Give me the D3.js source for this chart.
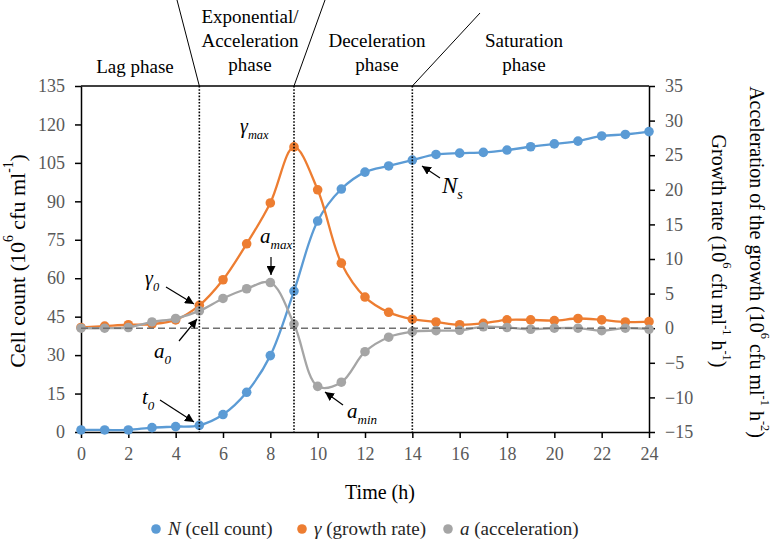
<!DOCTYPE html>
<html><head><meta charset="utf-8">
<script src="https://cdn.jsdelivr.net/npm/d3@7"></script>
<style>html,body{margin:0;padding:0;background:#fff;} svg{display:block;} svg text{font-family:"Liberation Serif","Times New Roman",serif;}</style>
</head><body>
<svg id="chart" width="771" height="545"></svg>
<script>
// ---------- data ----------
const hours        = [0,1,2,3,4,5,6,7,8,9,10,11,12,13,14,15,16,17,18,19,20,21,22,23,24];
const cellCount    = [0.8,0.8,0.8,1.7,2.1,2.6,6.8,15.5,29.8,55.0,82.3,94.8,101.4,103.8,106.1,108.3,108.8,109.1,110.0,111.3,112.4,113.5,115.5,116.1,117.2];
const growthRate   = [0.1,0.3,0.5,0.6,1.2,3.3,7.0,12.2,18.1,26.2,20.0,9.4,4.5,2.3,1.3,0.9,0.5,0.7,1.2,1.2,1.1,1.4,1.2,0.9,0.95];
const acceleration = [0,0,0.1,0.9,1.4,2.5,4.3,5.7,6.6,0.6,-8.4,-7.8,-3.4,-1.3,-0.5,-0.35,-0.3,0.2,0.1,-0.15,0,0,-0.35,0,-0.15];
const xTicks     = [0,2,4,6,8,10,12,14,16,18,20,22,24];
const leftTicks  = [0,15,30,45,60,75,90,105,120,135];
const rightTicks = [-15,-10,-5,0,5,10,15,20,25,30,35];
const phaseBounds = [5,9,14];
const seriesNames = ["N","γ","a"];
const seriesDesc  = [" (cell count)"," (growth rate)"," (acceleration)"];
const colors = ["#5B9BD5","#ED7D31","#A5A5A5"];

// ---------- setup ----------
const svg = d3.select("#chart");
const FONT = '"Liberation Serif","Times New Roman",serif';
const L = 81, R = 649, T = 86, B = 432;
const x  = d3.scaleLinear().domain([0,24]).range([L,R]);
const yL = d3.scaleLinear().domain([0,135]).range([B,T]);
const yR = d3.scaleLinear().domain([-15,35]).range([B,T]);

svg.append("rect").attr("width",771).attr("height",545).attr("fill","#fff");

const defs = svg.append("defs");
defs.append("marker").attr("id","arr").attr("viewBox","0 0 10 10")
  .attr("refX",10).attr("refY",5).attr("markerWidth",9).attr("markerHeight",9)
  .attr("markerUnits","userSpaceOnUse").attr("orient","auto")
  .append("path").attr("d","M0,0 L10,5 L0,10 z").attr("fill","#000");

function rich(textSel, parts, size){
  let off = 0;
  parts.forEach(p=>{
    const ts = textSel.append("tspan").text(p.t);
    const target = p.sup ? -size*0.4 : (p.sub ? size*0.28 : 0);
    const dy = target - off;
    if (dy) ts.attr("dy", dy);
    off = target;
    if (p.sup || p.sub) ts.attr("font-size", size*0.62);
    if (p.it) ts.style("font-style","italic");
  });
  return textSel;
}
function txt(sel){ return sel.style("font-family",FONT); }

// ---------- axes ----------
function styleAxis(g){
  g.selectAll("path").attr("stroke","#000").attr("stroke-width",1.5);
  g.selectAll("line").attr("stroke","#000").attr("stroke-width",1.5);
  g.selectAll("text").style("font-family",FONT).attr("font-size",18).attr("fill","#595959");
  g.attr("font-family",null).attr("font-size",null);
}
svg.append("g").attr("transform",`translate(${L},0)`)
  .call(d3.axisLeft(yL).tickValues(leftTicks).tickSize(6).tickSizeOuter(0).tickPadding(10))
  .call(styleAxis);
svg.append("g").attr("transform",`translate(${R},0)`)
  .call(d3.axisRight(yR).tickValues(rightTicks).tickSize(6).tickSizeOuter(0).tickPadding(10))
  .call(styleAxis);
svg.append("g").attr("transform",`translate(0,${B})`)
  .call(d3.axisBottom(x).tickValues(xTicks).tickSize(6).tickSizeOuter(0).tickPadding(9))
  .call(styleAxis);
svg.append("line").attr("x1",L).attr("x2",R).attr("y1",T).attr("y2",T)
  .attr("stroke","#000").attr("stroke-width",1.5);

// ---------- series ----------
const curve = d3.curveCatmullRom.alpha(0.5);
const series = [
  {vals:cellCount, y:yL, c:colors[0]},
  {vals:growthRate, y:yR, c:colors[1]},
  {vals:acceleration, y:yR, c:colors[2]}
];
series.forEach(s=>{
  const pts = hours.map((h,i)=>[h, s.vals[i]]);
  svg.append("path").datum(pts)
    .attr("d", d3.line().x(d=>x(d[0])).y(d=>s.y(d[1])).curve(curve))
    .attr("fill","none").attr("stroke",s.c).attr("stroke-width",2.3);
  svg.append("g").selectAll("circle").data(pts).join("circle")
    .attr("cx",d=>x(d[0])).attr("cy",d=>s.y(d[1])).attr("r",4.8).attr("fill",s.c);
});

// zero line for acceleration
svg.append("line").attr("x1",L).attr("x2",R).attr("y1",yR(0)).attr("y2",yR(0))
  .attr("stroke","#707070").attr("stroke-width",1.4).attr("stroke-dasharray","7,4");

// phase boundaries
phaseBounds.forEach(b=>{
  svg.append("line").attr("x1",x(b)).attr("x2",x(b)).attr("y1",T).attr("y2",B)
    .attr("stroke","#000").attr("stroke-width",1.6).attr("stroke-dasharray","1.6,1.6");
});
// slanted separators above
[[x(5),T,177,0],[x(9),T,325,0],[x(14),T,480,13]].forEach(s=>{
  svg.append("line").attr("x1",s[0]).attr("y1",s[1]).attr("x2",s[2]).attr("y2",s[3])
    .attr("stroke","#000").attr("stroke-width",1);
});

// phase labels
function phase(lines, cx, baselines){
  lines.forEach((t,i)=>{
    txt(svg.append("text")).attr("x",cx).attr("y",baselines[i]).attr("text-anchor","middle")
      .attr("font-size",19).attr("fill","#000").text(t);
  });
}
phase(["Lag phase"],135,[73]);
phase(["Exponential/","Acceleration","phase"],250,[23,47,71]);
phase(["Deceleration","phase"],377,[47,71]);
phase(["Saturation","phase"],524,[47,71]);

// axis titles
rich(txt(svg.append("text")).attr("transform","translate(17,261) rotate(-90)")
  .attr("text-anchor","middle").attr("dominant-baseline","central")
  .attr("font-size",22).attr("fill","#000"),
  [{t:"Cell count (10"},{t:"6",sup:true},{t:" cfu ml"},{t:"-1",sup:true},{t:")"}],22);
rich(txt(svg.append("text")).attr("transform","translate(719,251) rotate(90)")
  .attr("text-anchor","middle").attr("dominant-baseline","central")
  .attr("font-size",20).attr("fill","#000"),
  [{t:"Growth rate (10"},{t:"6",sup:true},{t:" cfu ml"},{t:"-1",sup:true},{t:" h"},{t:"-1",sup:true},{t:")"}],20);
rich(txt(svg.append("text")).attr("transform","translate(757,262) rotate(90)")
  .attr("text-anchor","middle").attr("dominant-baseline","central")
  .attr("font-size",20).attr("fill","#000"),
  [{t:"Acceleration of the growth (10"},{t:"6",sup:true},{t:" cfu ml"},{t:"-1",sup:true},{t:" h"},{t:"-2",sup:true},{t:")"}],20);
txt(svg.append("text")).attr("x",(L+R)/2+15).attr("y",499).attr("text-anchor","middle")
  .attr("font-size",20).attr("fill","#000").text("Time (h)");

// annotations
function ann(xp, yp, main, sub, size){
  rich(txt(svg.append("text")).attr("x",xp).attr("y",yp)
    .attr("font-size",size).attr("fill","#000"),
    [{t:main,it:true},{t:sub,sub:true,it:true}], size);
}
function arrow(x1,y1,x2,y2){
  svg.append("line").attr("x1",x1).attr("y1",y1).attr("x2",x2).attr("y2",y2)
    .attr("stroke","#000").attr("stroke-width",1.2).attr("marker-end","url(#arr)");
}
ann(240,133,"γ","max",20);
ann(260,243,"a","max",21);
arrow(271,257,271,275);
ann(145,285,"γ","0",20);
arrow(166,287,194,304);
ann(154,358,"a","0",21);
arrow(179,341,197,319);
ann(142,404,"t","0",21);
arrow(160,400,194,422);
ann(347,418,"a","min",21);
arrow(343,405,325,392);
ann(442,193,"N","s",23);
arrow(440,178,422,166);

// legend
const legX = [156,302,448];
const legY = 529;
seriesNames.forEach((n,i)=>{
  svg.append("circle").attr("cx",legX[i]).attr("cy",legY).attr("r",4.8).attr("fill",colors[i]);
  rich(txt(svg.append("text")).attr("x",legX[i]+12).attr("y",legY+6)
    .attr("font-size",19).attr("fill","#262626"),
    [{t:n,it:true},{t:seriesDesc[i]}],19);
});
</script>
</body></html>
